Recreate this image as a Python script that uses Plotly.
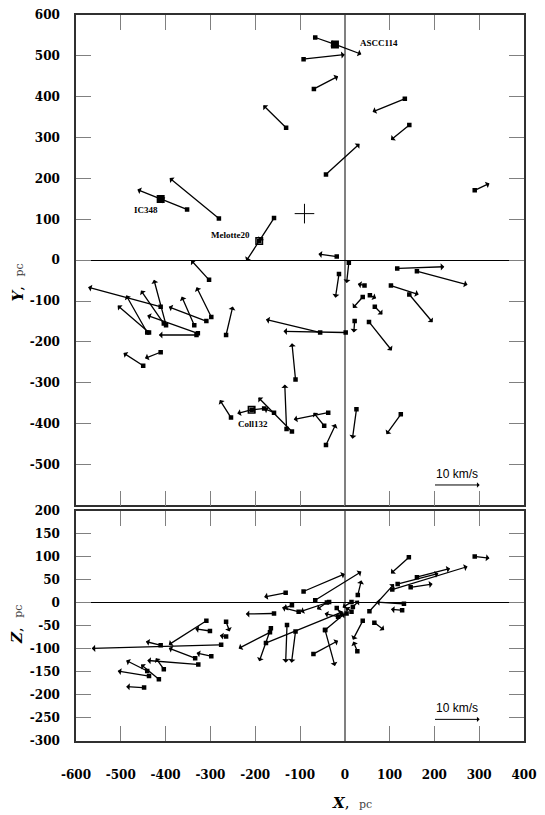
import plotly.graph_objects as go

# 上段: X-Y 平面 (始点 = 星団の位置, 先端 = 速度ベクトルの先), 単位 pc
xy_x = [-66, -22, -92, -69, -131, 134, 144, -42, 290, -158, -191, -281, -352, -411,
        -18, 9, 117, 161, -13, 44, 40, 56, 67, 103, 144, 22, 54, 2, -55, -110,
        -303, -411, -399, -441, -404, -437, -336, -298, -309, -328, -331, -265,
        -450, -411, -254, -208, -180, -158, -118, -130, -37, -46, -42, 26, 125]
xy_y = [545, 528, 492, 419, 324, 395, 331, 210, 171, 103, 47, 102, 124, 150,
        9, -6, -20, -27, -34, -62, -90, -86, -114, -62, -84, -149, -151, -177, -177, -292,
        -48, -114, -159, -177, -155, -177, -159, -139, -149, -179, -183, -183,
        -258, -225, -385, -366, -363, -373, -419, -413, -373, -405, -452, -365, -377]
xy_x_tip = [-22, 37, 0, -15, -182, 62, 103, 33, 323, -191, -220, -391, -411, -463,
            -59, 4, 222, 274, -21, 29, 18, 70, 84, 165, 196, 20, 105, -137, -176, -118,
            -343, -573, -426, -488, -455, -507, -364, -331, -393, -441, -415, -250,
            -494, -446, -279, -240, -208, -180, -193, -134, -114, -70, -20, 17, 93]
xy_y_tip = [528, 504, 503, 450, 379, 363, 294, 285, 188, 47, -2, 201, 150, 173,
            15, -56, -16, -60, -92, -58, -117, -93, -133, -84, -152, -177, -221, -174, -145, -203,
            0, -66, -48, -86, -74, -111, -89, -66, -114, -135, -183, -113,
            -227, -240, -342, -375, -366, -363, -336, -304, -390, -373, -401, -437, -426]

# 下段: X-Z 平面
xz_x = [290, 106, 118, 161, 143, 147, -92, -66, 29, 55, -132, -158, 132, 128, -35,
        -165, -176, -129, -110, -44, -44, -70, 40, 28, 66, -276, -309, -301, -265, -265,
        -411, -334, -298, -327, -441, -404, -437, -415, -448, -167, -15, 15, 15,
        -103, -40, -18, 4, 18, -118]
xz_z = [101, 29, 41, 56, 99, 34, 25, 6, 17, -18, 22, -23, -2, -16, 2,
        -55, -87, -48, -62, -59, -59, -111, -39, -105, -43, -91, -39, -61, -41, -73,
        -92, -120, -116, -134, -148, -144, -159, -166, -184, -64, -30, 2, -19,
        -19, 1, -11, -23, -9, -5]
xz_x_tip = [323, 274, 209, 235, 103, 196, 0, 37, 37, 110, -180, -221, 70, 103, -99,
            -191, -4, -132, -119, -22, 0, -15, 18, 19, 88, -565, -393, -334, -257, -279,
            -444, -393, -331, -441, -488, -422, -507, -455, -488, -237, -45, -5, 2,
            -140, -62, -5, -20, 32, -136]
xz_z_tip = [97, 79, 64, 75, 64, 41, 63, 68, 49, 41, 13, -24, 2, -14, -19,
            -127, -19, -130, -130, -137, -23, -82, -80, -84, -59, -99, -91, -56, -62, -71,
            -84, -98, -109, -125, -125, -120, -148, -134, -182, -99, -23, -10, -10,
            -10, -14, -30, -31, 5, -12]

# 名前の付いた星団
named = ["ASCC114", "Melotte20", "IC348", "Coll132"]
named_x = [-22, -191, -411, -208]
named_y = [528, 47, 150, -366]
named_label_x = [29, -256, -443, -205]
named_label_y = [532, 62, 124, -400]

# 十字マーカー
cross_x = [-90]
cross_y = [114]

# 速度スケール (10 km/s)
scale_text = "10 km/s"
scale_x = [198, 301]

x_ticks = list(range(-600, 401, 100))
y_ticks = list(range(-500, 601, 100))
z_ticks = list(range(-300, 201, 50))

FONT = "DejaVu Serif"


def arrow(x0, y0, x1, y1, xref, yref, width=1.3):
    return dict(
        x=x1, y=y1, ax=x0, ay=y0,
        xref=xref, yref=yref, axref=xref, ayref=yref,
        text="", showarrow=True,
        arrowhead=1, arrowsize=0.9, arrowwidth=width, arrowcolor="black",
        standoff=0, startstandoff=0,
    )


def hyphen(vals):
    # 目盛ラベルは通常のハイフンで表示
    return [str(v) for v in vals]


fig = go.Figure()

fig.add_trace(go.Scatter(
    x=xy_x, y=xy_y, mode="markers", xaxis="x", yaxis="y",
    marker=dict(symbol="square", size=4.5, color="black"), showlegend=False,
))
fig.add_trace(go.Scatter(
    x=named_x, y=named_y, mode="markers", xaxis="x", yaxis="y",
    marker=dict(symbol=["square", "square-open", "square", "square-open"], size=6.5,
                color="black", line=dict(color="black", width=1.5)),
    showlegend=False,
))
fig.add_trace(go.Scatter(
    x=cross_x, y=cross_y, mode="markers", xaxis="x", yaxis="y",
    marker=dict(symbol="cross-thin", size=14, line=dict(color="black", width=1)),
    showlegend=False,
))
fig.add_trace(go.Scatter(
    x=xz_x, y=xz_z, mode="markers", xaxis="x2", yaxis="y2",
    marker=dict(symbol="square", size=4.5, color="black"), showlegend=False,
))

annotations = []
for x0, y0, x1, y1 in zip(xy_x, xy_y, xy_x_tip, xy_y_tip):
    annotations.append(arrow(x0, y0, x1, y1, "x", "y"))
for x0, z0, x1, z1 in zip(xz_x, xz_z, xz_x_tip, xz_z_tip):
    annotations.append(arrow(x0, z0, x1, z1, "x2", "y2"))

for name, lx, ly in zip(named, named_label_x, named_label_y):
    annotations.append(dict(
        x=lx, y=ly, xref="x", yref="y", text=f"<b>{name}</b>", showarrow=False,
        xanchor="left" if name == "ASCC114" else "center",
        font=dict(family="Liberation Serif", size=9, color="black"),
    ))

# スケール矢印
annotations.append(arrow(scale_x[0], -550, scale_x[1], -550, "x", "y", width=1))
annotations.append(arrow(scale_x[0], -253, scale_x[1], -253, "x2", "y2", width=1))
for yref, yv in [("y", -522), ("y2", -228)]:
    annotations.append(dict(
        x=sum(scale_x) / 2, y=yv, xref="x" if yref == "y" else "x2", yref=yref,
        text=scale_text, showarrow=False,
        font=dict(family="Liberation Sans", size=12, color="black"),
    ))

# 軸タイトル
title_font = dict(family=FONT, size=15, color="black")
pc = "<span style='font-size:11px;color:#444;font-weight:normal'>pc</span>"
annotations.append(dict(
    x=0.615, y=-0.1, xref="paper", yref="paper", showarrow=False,
    text=f"<b><i>X</i></b>,  {pc}", font=title_font,
))
annotations.append(dict(
    x=-0.155, y=0.631, xref="paper", yref="paper", showarrow=False, textangle=-90,
    text=f"<b><i>Y</i></b>,  {pc}", font=title_font,
))
annotations.append(dict(
    x=-0.155, y=0.131, xref="paper", yref="paper", showarrow=False, textangle=-90,
    text=f"<b><i>Z</i></b>,  {pc}", font=title_font,
))

axis_common = dict(
    showgrid=False, ticks="inside", ticklen=15, tickwidth=1, tickcolor="#808080",
    showline=True, linecolor="#303030", linewidth=1.5, mirror="ticks",
    tickfont=dict(family=FONT, size=12, color="black", weight="bold"),
)

fig.update_layout(
    width=545, height=815,
    margin=dict(l=76, r=15, t=8, b=74),
    plot_bgcolor="white", paper_bgcolor="white",
    font=dict(family=FONT, size=12, color="black"),
    xaxis=dict(axis_common, domain=[0, 1], anchor="y", range=[-600, 400],
               tickvals=x_ticks, showticklabels=False,
               zeroline=True, zerolinecolor="#808080", zerolinewidth=2),
    yaxis=dict(axis_common, domain=[0.3245, 1], anchor="x", range=[-600, 600],
               tickvals=y_ticks, ticktext=hyphen(y_ticks), ticklabelstandoff=12,
               zeroline=True, zerolinecolor="black", zerolinewidth=1),
    xaxis2=dict(axis_common, domain=[0, 1], anchor="y2", range=[-600, 400],
                tickvals=x_ticks, ticktext=hyphen(x_ticks), ticklabelstandoff=22,
                zeroline=True, zerolinecolor="#808080", zerolinewidth=2),
    yaxis2=dict(axis_common, domain=[0, 0.317], anchor="x2", range=[-300, 200],
                tickvals=z_ticks, ticktext=hyphen(z_ticks), ticklabelstandoff=12,
                zeroline=True, zerolinecolor="black", zerolinewidth=1),
    annotations=annotations,
)

# ページ余白を消して図を左上に揃える
fig.write_html(
    "out.html",
    config={"displayModeBar": False},
    post_script="document.body.style.margin='0';",
)
